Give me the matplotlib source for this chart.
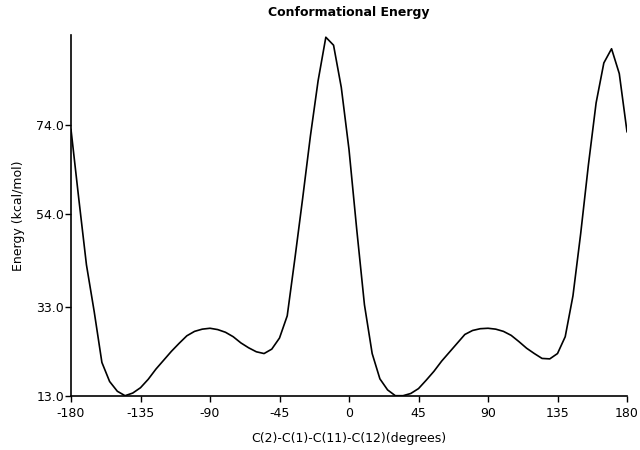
import numpy as np
import matplotlib.pyplot as plt

# dihedral angle (degrees) and energy (kcal/mol)
angles = list(range(-180, 185, 5))
energy = [
    73.0, 57.5, 42.5, 32.0, 20.5, 16.2, 14.0, 13.0, 13.6, 14.8,
    16.7, 19.0, 21.0, 23.0, 24.8, 26.5, 27.5, 28.0, 28.2, 27.9,
    27.3, 26.3, 24.9, 23.8, 22.9, 22.5, 23.5, 26.0, 31.0, 44.0,
    57.5, 71.5, 84.0, 93.8, 92.0, 82.5, 68.5, 50.5, 33.5, 22.5,
    16.8, 14.3, 13.0, 13.0, 13.5, 14.6, 16.5, 18.5, 20.8, 22.8,
    24.8, 26.8, 27.7, 28.1, 28.2, 28.0, 27.5, 26.6, 25.2, 23.7,
    22.5, 21.4, 21.3, 22.5, 26.3, 35.5, 49.5, 65.0, 79.0, 88.0,
    91.2, 85.6, 72.5,
]
xticks = [-180, -135, -90, -45, 0, 45, 90, 135, 180]
yticks = [13.0, 33.0, 54.0, 74.0]

fig = plt.figure(figsize=(6.4, 4.5), dpi=100)
ax = fig.add_axes([71 / 640, 1 - 395.7 / 450, (627 - 71) / 640, (395.7 - 35) / 450])

ax.plot(angles, energy, color='black', linewidth=1.2)

ax.set_xlim(-180, 180)
ax.set_ylim(13.0, 94.3)
ax.set_xticks(xticks)
ax.set_xticklabels([str(t) for t in xticks])
ax.set_yticks(yticks)
ax.set_yticklabels(["%.1f" % t for t in yticks])

for s in ['top', 'right']:
    ax.spines[s].set_visible(False)
for s in ['left', 'bottom']:
    ax.spines[s].set_linewidth(1.2)
    ax.spines[s].set_color('black')
ax.tick_params(direction='out', length=4, width=1, labelsize=9, pad=1)
ax.tick_params(axis='x', pad=4)

ax.set_title("Conformational Energy", fontsize=9, fontweight='bold', pad=14)
ax.set_xlabel("C(2)-C(1)-C(11)-C(12)(degrees)", fontsize=9, labelpad=9)
ax.set_ylabel("Energy (kcal/mol)", fontsize=9, labelpad=8)

fig.savefig("out.png", dpi=100)
